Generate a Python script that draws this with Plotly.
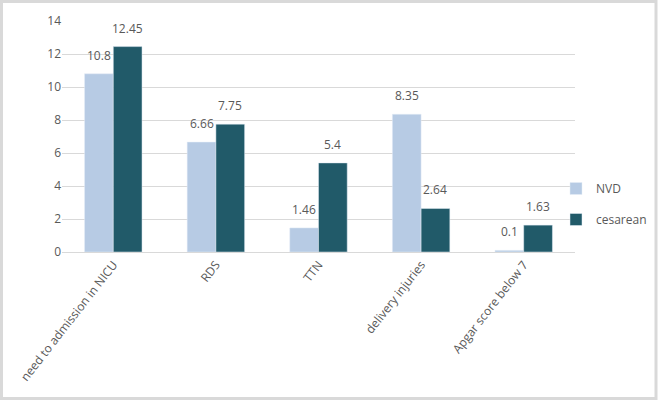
import plotly.graph_objects as go

categories = ["need to admission in NICU", "RDS", "TTN", "delivery injuries", "Apgar score below 7"]
nvd = [10.8, 6.66, 1.46, 8.35, 0.1]
cesarean = [12.45, 7.75, 5.4, 2.64, 1.63]
y_ticks = [0, 2, 4, 6, 8, 10, 12, 14]

W, H = 658, 400
L, R, T, B = 62, 83, 21, 148
pw = W - L - R
ph = H - T - B
BARGAP = 0.44
half = pw / len(categories) * (1 - BARGAP) / 4  # centre offset of each bar in a pair

def px_x(p):
    return (p - L) / pw

def px_y(p):
    return (H - B - p) / ph

txt = "#595959"
fam = "Open Sans, Liberation Sans, sans-serif"
font = dict(family=fam, size=11, color=txt)

fig = go.Figure()
fig.add_trace(go.Bar(
    x=categories, y=nvd, name="NVD", marker_color="#b7cbe4",
    legendgroup="a", hoverinfo="x+y",
))
fig.add_trace(go.Bar(
    x=categories, y=cesarean, name="cesarean", marker_color="#215a69",
    legendgroup="b", hoverinfo="x+y",
))

for series, sign in ((nvd, -1), (cesarean, 1)):
    for c, v in zip(categories, series):
        fig.add_annotation(x=c, y=v, text=str(v), showarrow=False,
                           xanchor="center", yanchor="bottom",
                           xshift=sign * half, yshift=8,
                           font=dict(family=fam, size=12, color=txt))

fig.update_layout(
    width=W, height=H,
    margin=dict(l=L, r=R, t=T, b=B, autoexpand=False),
    paper_bgcolor="white", plot_bgcolor="white",
    barmode="group", bargap=BARGAP, bargroupgap=0,
    font=font,
    legend=dict(x=px_x(556), y=px_y(174), xanchor="left", yanchor="top",
                traceorder="grouped", tracegroupgap=12,
                font=dict(family=fam, size=12, color=txt),
                itemwidth=30, bgcolor="rgba(0,0,0,0)"),
    showlegend=True,
)
fig.update_xaxes(tickangle=-52, showline=True, linecolor="#d9d9d9", linewidth=1,
                 tickfont=dict(family=fam, size=12, color=txt),
                 ticks="", automargin=False)
fig.update_yaxes(range=[0, 14], tickvals=y_ticks, showgrid=True, gridcolor="#d9d9d9",
                 gridwidth=1, zeroline=False, showline=False, ticks="",
                 tickfont=dict(family=fam, size=12, color=txt), automargin=False)

fig.add_shape(type="rect", xref="paper", yref="paper",
              x0=px_x(1.5), x1=px_x(W - 2), y0=px_y(H - 1.5), y1=px_y(1.5),
              line=dict(color="#d9d9d9", width=3), layer="below")

fig.write_html("out.html", config={"displayModeBar": False},
               post_script="document.body.style.margin='0';document.body.style.overflow='hidden';")
